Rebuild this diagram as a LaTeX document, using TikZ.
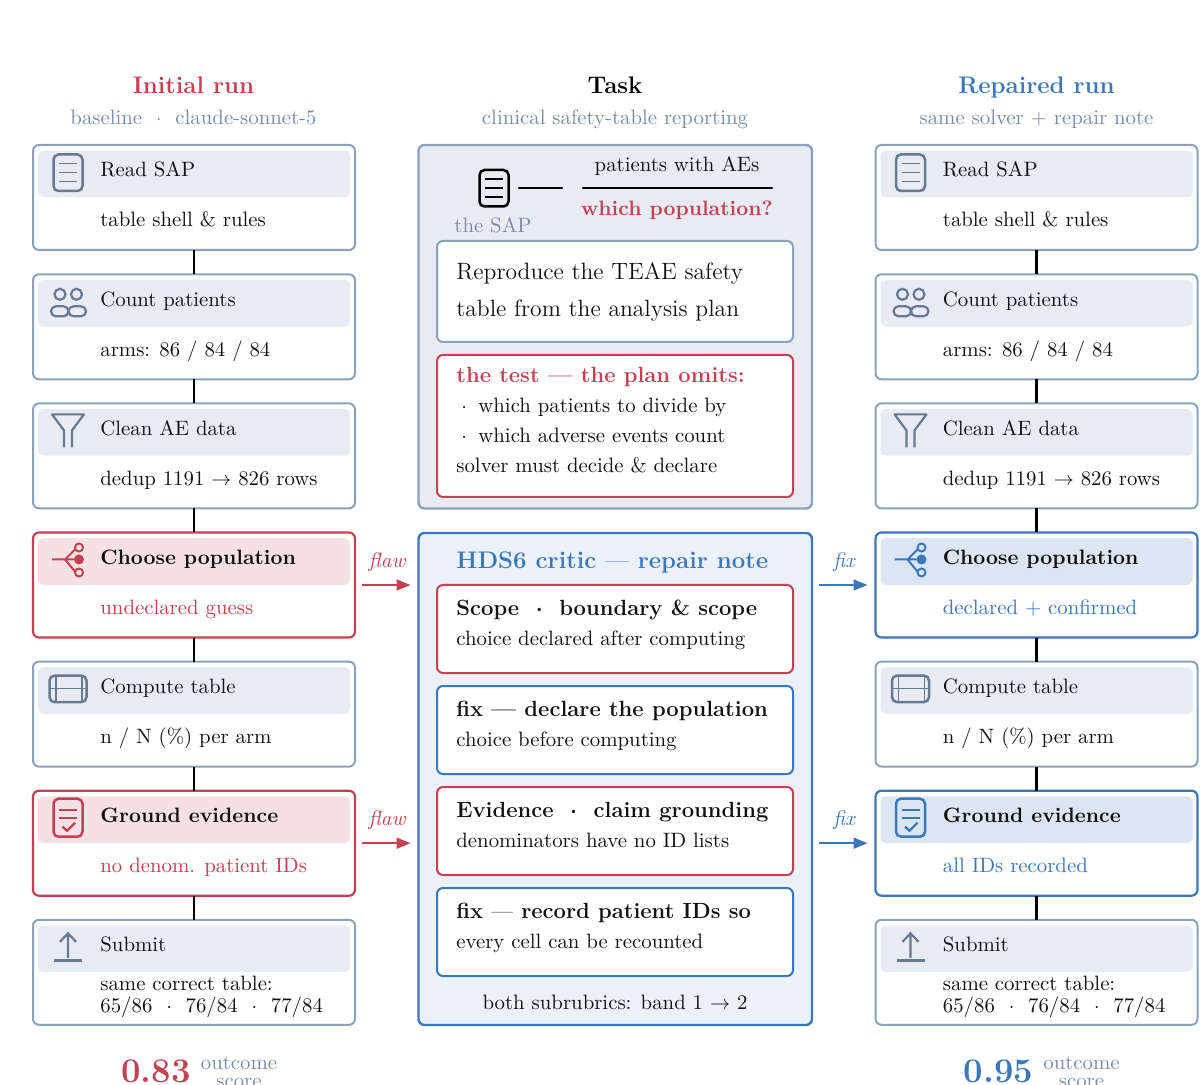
\documentclass[tikz,border=0pt]{standalone}
\usepackage{xcolor}
\usepackage{tikz}
\usepackage{amsmath}
\usepackage{amssymb}
\usetikzlibrary{arrows.meta}
\definecolor{runred}{HTML}{C44152}
\definecolor{runblue}{HTML}{3A78BA}
\definecolor{slateline}{HTML}{8BA2BC}
\definecolor{slateicon}{HTML}{667A94}
\definecolor{slatetext}{HTML}{7A8BA6}
\definecolor{slateband}{HTML}{E8EBF2}
\definecolor{redband}{HTML}{F5E1E4}
\definecolor{blueband}{HTML}{DBE6F2}
\definecolor{notefill}{HTML}{EBF1F8}
\definecolor{inkblack}{HTML}{111111}
\tikzset{
    pics/docicon/.style={code={
        \draw[line width=1.25pt, rounded corners=2.5pt] (-14.5,-18) rectangle (14.5,18.5);
        \draw[line width=0.8pt] (-9,-9) -- (9,-9) (-9,0) -- (9,0) (-9,9) -- (9,9);
    }},
    pics/peopleicon/.style={code={
        \draw[line width=1.1pt] (-8,-9) circle (5.5) (8.5,-9) circle (5.5);
        \draw[line width=1.1pt, rounded corners=2.5pt] (-17,3) rectangle (0.5,13);
        \draw[line width=1.1pt, rounded corners=2.5pt] (0.5,3) rectangle (18,13);
    }},
    pics/funnelicon/.style={code={
        \draw[line width=1.1pt, line join=round] (-4,15) -- (-4,-2) -- (-16,-18) -- (16,-18) -- (4,-2) -- (4,15);
    }},
    pics/branchicon/.style={code={
        \draw[line width=1pt] (-16,-2) -- (-3,-2) -- (7,-12) (-3,-2) -- (7,10) (-3,-2) -- (6,-2);
        \fill (11,-2) circle (5);
        \draw[line width=1pt, fill=#1] (11,-14) circle (4) (11,11) circle (4);
    }},
    pics/tableicon/.style={code={
        \draw[line width=1.25pt, rounded corners=2.5pt] (-18.5,-15) rectangle (18.5,11.5);
        \draw[line width=0.7pt] (-18.5,-2) -- (18.5,-2) (-12,-15) -- (-12,11.5) (14,-15) -- (14,11.5);
    }},
    pics/checkicon/.style={code={
        \draw[line width=1.25pt, rounded corners=2.5pt] (-14.5,-21) rectangle (14.5,17);
        \draw[line width=0.8pt] (-9,-10) -- (9,-10) (-9,-2) -- (9,-2);
        \draw[line width=1.2pt] (-5.5,7) -- (-1,11) -- (7,3);
    }},
    pics/uploadicon/.style={code={
        \draw[line width=1.1pt] (0,9) -- (0,-15) (-8,-7) -- (0,-15.5) -- (8,-7);
        \draw[line width=1.4pt] (-14,12) -- (14,12);
    }},
}
\begin{document}
\begin{tikzpicture}[x=0.5pt, y=-0.5pt,
    card/.style={draw=#1, fill=white, line width=1pt, rounded corners=3pt, outer sep=0pt, inner sep=0pt,
                 minimum width=161pt, minimum height=52.5pt},
    hotcard/.style={card=#1, line width=1.1pt},
    band/.style={fill=#1, rounded corners=2.5pt, outer sep=0pt, inner sep=0pt,
                 minimum width=156pt, minimum height=23.3pt},
    steptitle/.style={anchor=base west, inner sep=0pt, text=inkblack, font=\fontsize{10.4}{12}\selectfont},
    hottitle/.style={steptitle, font=\fontsize{10.4}{12}\selectfont\bfseries},
    stepnote/.style={anchor=base west, inner sep=0pt, text=#1, font=\fontsize{10.4}{11}\selectfont},
    stepnote/.default=inkblack,
    panel/.style={draw=#1, line width=1.2pt, rounded corners=3pt, outer sep=0pt, minimum width=196.75pt},
    inbox/.style={draw=#1, fill=white, line width=1pt, rounded corners=3pt, outer sep=0pt,
                  minimum width=178pt},
    heading/.style={inner sep=0pt, anchor=base, font=\fontsize{12}{14}\selectfont\bfseries},
    subheading/.style={inner sep=0pt, anchor=base, text=slatetext, font=\fontsize{10.4}{12}\selectfont},
    link/.style={draw=black, line width=1.1pt},
    repair/.style={draw=#1, line width=1pt, shorten <=3.5pt, shorten >=4pt, -{Stealth[length=7pt, width=5.5pt, inset=0pt]}},
    tag/.style={inner sep=0pt, text=#1, font=\fontsize{10.4}{12}\selectfont\itshape},
    score/.style={inner sep=0pt, anchor=base, text=#1, font=\fontsize{17.3}{20}\selectfont\bfseries},
    scorelabel/.style={inner sep=0pt, anchor=base, text=slatetext, font=\fontsize{10.4}{12}\selectfont},
    bodyline/.style={anchor=base west, inner sep=0pt, text=inkblack, font=\fontsize{10.4}{12}\selectfont},
    boldline/.style={anchor=base west, inner sep=0pt, text=inkblack, font=\fontsize{11}{13}\selectfont\bfseries},
]
    \useasboundingbox (0,0) rectangle (1200,1085);

    % column headings
    \node[heading, text=runred] (headinit) at (193.5,94) {Initial run};
    \node[subheading] (subinit) at (193.5,125) {baseline ~$\cdot$~ claude-sonnet-5};
    \node[heading, text=black] (headtask) at (615,94) {Task};
    \node[subheading] (subtask) at (615,125) {clinical safety-table reporting};
    \node[heading, text=runblue] (headfix) at (1036.5,94) {Repaired run};
    \node[subheading] (subfix) at (1036.5,125) {same solver + repair note};

    % initial run
    \node[card=slateline] (aread) at (194,197.5) {};
    \node[band=slateband] (bandaread) at (194,174) {};
    \pic[color=slateicon] (iconaread) at (68,172.5) {docicon};
    \node[steptitle] (titlearead) at (100,177) {Read SAP};
    \node[stepnote] (notearead) at (100,227) {table shell \& rules};

    \node[card=slateline] (acount) at (194,326.8) {};
    \node[band=slateband] (bandacount) at (194,303.3) {};
    \pic[color=slateicon] (iconacount) at (68,303.3) {peopleicon};
    \node[steptitle] (titleacount) at (100,306.3) {Count patients};
    \node[stepnote] (noteacount) at (100,356.3) {arms: 86 / 84 / 84};

    \node[card=slateline] (aclean) at (194,455.9) {};
    \node[band=slateband] (bandaclean) at (194,432.4) {};
    \pic[color=slateicon] (iconaclean) at (68,432.4) {funnelicon};
    \node[steptitle] (titleaclean) at (100,435.4) {Clean AE data};
    \node[stepnote] (noteaclean) at (100,485.4) {dedup 1191 $\rightarrow$ 826 rows};

    \node[hotcard=runred] (achoose) at (194,585) {};
    \node[band=redband] (bandachoose) at (194,561.5) {};
    \pic[color=runred] (iconachoose) at (68,561.5) {branchicon=redband};
    \node[hottitle] (titleachoose) at (100,564.5) {Choose population};
    \node[stepnote=runred] (noteachoose) at (100,614.5) {undeclared guess};

    \node[card=slateline] (acompute) at (194,714.1) {};
    \node[band=slateband] (bandacompute) at (194,690.6) {};
    \pic[color=slateicon] (iconacompute) at (68,690.6) {tableicon};
    \node[steptitle] (titleacompute) at (100,693.6) {Compute table};
    \node[stepnote] (noteacompute) at (100,743.6) {n / N (\%) per arm};

    \node[hotcard=runred] (aground) at (194,843.2) {};
    \node[band=redband] (bandaground) at (194,819.7) {};
    \pic[color=runred] (iconaground) at (68,819.7) {checkicon};
    \node[hottitle] (titleaground) at (100,822.7) {Ground evidence};
    \node[stepnote=runred] (noteaground) at (100,872.7) {no denom. patient IDs};

    \node[card=slateline] (asubmit) at (194,972.3) {};
    \node[band=slateband] (bandasubmit) at (194,948.8) {};
    \pic[color=slateicon] (iconasubmit) at (68,948.8) {uploadicon};
    \node[steptitle] (titleasubmit) at (100,951.8) {Submit};
    \node[stepnote] (noteasubmit) at (100,990) {same correct table:};
    \node[stepnote] (valuesasubmit) at (100,1012) {65/86 ~$\cdot$~ 76/84 ~$\cdot$~ 77/84};

    \draw[link] (aread) -- (acount);
    \draw[link] (acount) -- (aclean);
    \draw[link] (aclean) -- (achoose);
    \draw[link] (achoose) -- (acompute);
    \draw[link] (acompute) -- (aground);
    \draw[link] (aground) -- (asubmit);

    % task panel
    \node[panel=slateline, fill=slateband, minimum height=181.75pt] (taskpanel) at (615.25,326.75) {};
    \pic[color=black] (iconsap) at (494,188) {docicon};
    \node[inner sep=0pt, text=slatetext, font=\fontsize{10.4}{12}\selectfont] (labelsap) at (493,225) {the SAP};
    \coordinate (dashleft) at (519,188);
    \coordinate (dashright) at (562,188);
    \coordinate (barleft) at (583,188);
    \coordinate (barright) at (772,188);
    \draw[link, line cap=round] (dashleft) -- (dashright);
    \draw[link, line cap=round] (barleft) -- (barright);
    \node[subheading, text=inkblack] (fractop) at (677,172) {patients with AEs};
    \node[subheading, text=runred, font=\fontsize{10.4}{12}\selectfont\bfseries] (fracbottom) at (677,216) {which population?};

    \node[inbox=slateline, minimum height=50.5pt] (aimbox) at (615,291.5) {};
    \node[bodyline, font=\fontsize{11.8}{14}\selectfont] (aimone) at (456,280) {Reproduce the TEAE safety};
    \node[bodyline, font=\fontsize{11.8}{14}\selectfont] (aimtwo) at (456,317) {table from the analysis plan};

    \node[inbox=runred, minimum height=71pt] (testbox) at (615,426) {};
    \node[boldline, text=runred] (testhead) at (456,383) {the test --- the plan omits:};
    \node[bodyline] (testdotone) at (461,413) {$\cdot$};
    \node[bodyline] (testone) at (478,413) {which patients to divide by};
    \node[bodyline] (testdottwo) at (461,443) {$\cdot$};
    \node[bodyline] (testtwo) at (478,443) {which adverse events count};
    \node[bodyline] (testthree) at (456,473) {solver must decide \& declare};

    % critic panel
    \node[panel=runblue, fill=notefill, minimum height=246pt] (critic) at (615.25,779) {};
    \node[boldline, text=runblue, font=\fontsize{12}{14}\selectfont\bfseries] (critichead) at (456,568) {HDS6 critic \textmd{---} repair note};

    \node[inbox=runred, minimum height=44pt] (scopebox) at (615,629) {};
    \node[boldline] (scopehead) at (456,615) {Scope ~$\boldsymbol{\cdot}$~ boundary \& scope};
    \node[bodyline] (scopenote) at (456,645) {choice declared after computing};

    \node[inbox=runblue, minimum height=44pt] (declarebox) at (615,730) {};
    \node[boldline] (declarehead) at (456,716) {fix --- declare the population};
    \node[bodyline] (declarenote) at (456,746) {choice before computing};

    \node[inbox=runred, minimum height=44pt] (evidbox) at (615,831) {};
    \node[boldline] (evidhead) at (456,817) {Evidence ~$\boldsymbol{\cdot}$~ claim grounding};
    \node[bodyline] (evidnote) at (456,847) {denominators have no ID lists};

    \node[inbox=runblue, minimum height=44pt] (recordbox) at (615,932) {};
    \node[boldline] (recordhead) at (456,918) {fix \textmd{---} record patient IDs so};
    \node[bodyline] (recordnote) at (456,948) {every cell can be recounted};

    \node[subheading, text=inkblack] (bandnote) at (615,1009) {both subrubrics: band 1 $\rightarrow$ 2};

    % repaired run
    \node[card=slateline] (bread) at (1036.5,197.5) {};
    \node[band=slateband] (bandbread) at (1036.5,174) {};
    \pic[color=slateicon] (iconbread) at (910.5,172.5) {docicon};
    \node[steptitle] (titlebread) at (942.5,177) {Read SAP};
    \node[stepnote] (notebread) at (942.5,227) {table shell \& rules};

    \node[card=slateline] (bcount) at (1036.5,326.8) {};
    \node[band=slateband] (bandbcount) at (1036.5,303.3) {};
    \pic[color=slateicon] (iconbcount) at (910.5,303.3) {peopleicon};
    \node[steptitle] (titlebcount) at (942.5,306.3) {Count patients};
    \node[stepnote] (notebcount) at (942.5,356.3) {arms: 86 / 84 / 84};

    \node[card=slateline] (bclean) at (1036.5,455.9) {};
    \node[band=slateband] (bandbclean) at (1036.5,432.4) {};
    \pic[color=slateicon] (iconbclean) at (910.5,432.4) {funnelicon};
    \node[steptitle] (titlebclean) at (942.5,435.4) {Clean AE data};
    \node[stepnote] (notebclean) at (942.5,485.4) {dedup 1191 $\rightarrow$ 826 rows};

    \node[hotcard=runblue] (bchoose) at (1036.5,585) {};
    \node[band=blueband] (bandbchoose) at (1036.5,561.5) {};
    \pic[color=runblue] (iconbchoose) at (910.5,561.5) {branchicon=blueband};
    \node[hottitle] (titlebchoose) at (942.5,564.5) {Choose population};
    \node[stepnote=runblue] (notebchoose) at (942.5,614.5) {declared + confirmed};

    \node[card=slateline] (bcompute) at (1036.5,714.1) {};
    \node[band=slateband] (bandbcompute) at (1036.5,690.6) {};
    \pic[color=slateicon] (iconbcompute) at (910.5,690.6) {tableicon};
    \node[steptitle] (titlebcompute) at (942.5,693.6) {Compute table};
    \node[stepnote] (notebcompute) at (942.5,743.6) {n / N (\%) per arm};

    \node[hotcard=runblue] (bground) at (1036.5,843.2) {};
    \node[band=blueband] (bandbground) at (1036.5,819.7) {};
    \pic[color=runblue] (iconbground) at (910.5,819.7) {checkicon};
    \node[hottitle] (titlebground) at (942.5,822.7) {Ground evidence};
    \node[stepnote=runblue] (notebground) at (942.5,872.7) {all IDs recorded};

    \node[card=slateline] (bsubmit) at (1036.5,972.3) {};
    \node[band=slateband] (bandbsubmit) at (1036.5,948.8) {};
    \pic[color=slateicon] (iconbsubmit) at (910.5,948.8) {uploadicon};
    \node[steptitle] (titlebsubmit) at (942.5,951.8) {Submit};
    \node[stepnote] (notebsubmit) at (942.5,990) {same correct table:};
    \node[stepnote] (valuesbsubmit) at (942.5,1012) {65/86 ~$\cdot$~ 76/84 ~$\cdot$~ 77/84};

    \draw[link] (bread) -- (bcount);
    \draw[link] (bcount) -- (bclean);
    \draw[link] (bclean) -- (bchoose);
    \draw[link] (bchoose) -- (bcompute);
    \draw[link] (bcompute) -- (bground);
    \draw[link] (bground) -- (bsubmit);

    % flaw and fix arrows
    \draw[repair=runred] (achoose.east) -- (achoose.east -| critic.west);
    \draw[repair=runred] (aground.east) -- (aground.east -| critic.west);
    \draw[repair=runblue] (bchoose.west -| critic.east) -- (bchoose.west);
    \draw[repair=runblue] (bground.west -| critic.east) -- (bground.west);
    \node[tag=runred] (flawa) at (387,562) {flaw};
    \node[tag=runred] (flawb) at (387,820) {flaw};
    \node[tag=runblue] (fixa) at (844,562) {fix};
    \node[tag=runblue] (fixb) at (844,820) {fix};

    % scores
    \node[score=runred] (scorea) at (156,1082) {0.83};
    \node[scorelabel] (outcomea) at (239,1069) {outcome};
    \node[scorelabel] (wordscorea) at (239,1087) {score};
    \node[score=runblue] (scoreb) at (998.5,1082) {0.95};
    \node[scorelabel] (outcomeb) at (1081.5,1069) {outcome};
    \node[scorelabel] (wordscoreb) at (1081.5,1087) {score};
\end{tikzpicture}
\end{document}
